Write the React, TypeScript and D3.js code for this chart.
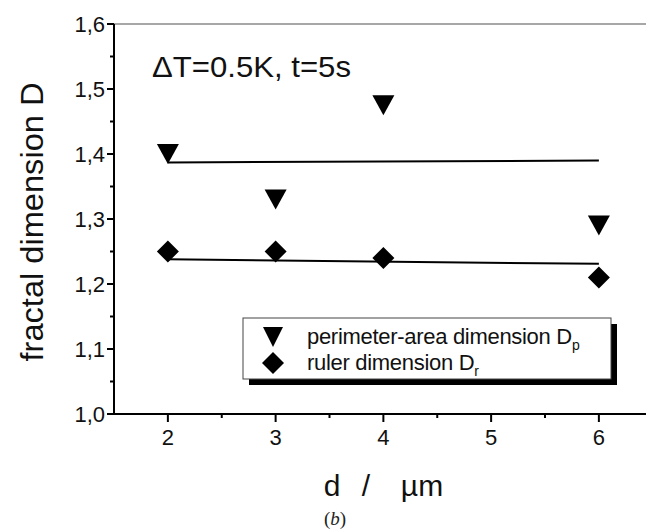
import React from "react";
import * as d3 from "d3";

const W = 646;
const H = 530;

// data
const dValues = [2, 3, 4, 6];
const perimeterArea = [1.4, 1.33, 1.475, 1.29];
const ruler = [1.25, 1.25, 1.24, 1.21];
const fitX = [2, 6];
const fitPerimeterArea = [1.387, 1.39];
const fitRuler = [1.238, 1.231];
const yTicks = [1.0, 1.1, 1.2, 1.3, 1.4, 1.5, 1.6];
const yTickLabels = ["1,0", "1,1", "1,2", "1,3", "1,4", "1,5", "1,6"];
const yMinor = [1.05, 1.15, 1.25, 1.35, 1.45, 1.55];
const xTicks = [2, 3, 4, 5, 6];
const xTickLabels = ["2", "3", "4", "5", "6"];
const xMinor = [2.5, 3.5, 4.5, 5.5];

const x = d3.scaleLinear().domain([1.5, 6.5]).range([114, 652.75]);
const y = d3.scaleLinear().domain([1.0, 1.6]).range([414, 24]);

const font = "'Liberation Sans', Arial, sans-serif";

function tri(cx: number, cy: number, w = 22, h = 20) {
  return `M${cx - w / 2},${cy - h / 2}L${cx + w / 2},${cy - h / 2}L${cx},${cy + h / 2}Z`;
}
function dia(cx: number, cy: number, r = 11) {
  return `M${cx},${cy - r}L${cx + r},${cy}L${cx},${cy + r}L${cx - r},${cy}Z`;
}

export default function App() {
  const line = d3
    .line<[number, number]>()
    .x((d) => x(d[0]))
    .y((d) => y(d[1]));
  const fitP: [number, number][] = fitX.map((v, i) => [v, fitPerimeterArea[i]]);
  const fitR: [number, number][] = fitX.map((v, i) => [v, fitRuler[i]]);
  const x0 = x(1.5);
  const yTop = y(1.6);
  const yBot = y(1.0);

  return (
    <svg
      width={W}
      height={H}
      style={{ position: "absolute", left: 0, top: 0, background: "#fff" }}
      fontFamily={font}
    >
      <rect width={W} height={H} fill="#fff" />
      {/* top frame line */}
      <line x1={x0} x2={W} y1={yTop} y2={yTop} stroke="#8a8a8a" strokeWidth={1.5} />
      {/* axes */}
      <line x1={x0} x2={x0} y1={yTop} y2={yBot} stroke="#000" strokeWidth={2} />
      <line x1={x0 - 1} x2={W} y1={yBot} y2={yBot} stroke="#000" strokeWidth={2} />
      {yTicks.map((t, i) => (
        <g key={"yt" + i}>
          <line x1={x0 - 7} x2={x0} y1={y(t)} y2={y(t)} stroke="#000" strokeWidth={2} />
          <text x={x0 - 9} y={y(t) + 7.5} fontSize={22} textAnchor="end" fill="#111">
            {yTickLabels[i]}
          </text>
        </g>
      ))}
      {yMinor.map((t, i) => (
        <line key={"ym" + i} x1={x0 - 4} x2={x0} y1={y(t)} y2={y(t)} stroke="#000" strokeWidth={2} />
      ))}
      {xTicks.map((t, i) => (
        <g key={"xt" + i}>
          <line x1={x(t)} x2={x(t)} y1={yBot} y2={yBot + 8} stroke="#000" strokeWidth={2} />
          <text x={x(t)} y={yBot + 31} fontSize={22} textAnchor="middle" fill="#111">
            {xTickLabels[i]}
          </text>
        </g>
      ))}
      {xMinor.map((t, i) => (
        <line key={"xm" + i} x1={x(t)} x2={x(t)} y1={yBot} y2={yBot + 4} stroke="#000" strokeWidth={2} />
      ))}

      {/* fit lines */}
      <path d={line(fitP) || ""} fill="none" stroke="#000" strokeWidth={2} />
      <path d={line(fitR) || ""} fill="none" stroke="#000" strokeWidth={2} />

      {/* markers */}
      {dValues.map((d, i) => (
        <path key={"p" + i} d={tri(x(d), y(perimeterArea[i]))} fill="#000" />
      ))}
      {dValues.map((d, i) => (
        <path key={"r" + i} d={dia(x(d), y(ruler[i]))} fill="#000" />
      ))}

      {/* annotation */}
      <text x={152} y={77} fontSize={30} fill="#111" textLength={199} lengthAdjust="spacingAndGlyphs">
        ΔT=0.5K, t=5s
      </text>

      {/* legend */}
      <rect x={249} y={324} width={368} height={61} fill="#000" />
      <rect x={243} y={318} width={368} height={61} fill="#fff" stroke="#444" strokeWidth={1} />
      <path d={tri(273, 337, 20, 20)} fill="#000" />
      <path d={dia(273, 363, 11)} fill="#000" />
      <text x={307} y={344} fontSize={22} fill="#111" letterSpacing={-0.3}>
        perimeter-area dimension D
        <tspan fontSize={14} dy={6}>p</tspan>
      </text>
      <text x={307} y={370} fontSize={22} fill="#111" letterSpacing={-0.3}>
        ruler dimension D
        <tspan fontSize={14} dy={6}>r</tspan>
      </text>

      {/* y label */}
      <text
        transform={`translate(43,${y(1.3) + 3}) rotate(-90)`}
        fontSize={32}
        textAnchor="middle"
        fill="#111"
        textLength={279}
        lengthAdjust="spacingAndGlyphs"
      >
        fractal dimension D
      </text>

      {/* x label */}
      <text x={332} y={496} fontSize={30} textAnchor="middle" fill="#111">d</text>
      <text x={366} y={496} fontSize={30} textAnchor="middle" fill="#111">/</text>
      <text x={422} y={496} fontSize={30} textAnchor="middle" fill="#111">µm</text>

      {/* panel label */}
      <text x={335} y={525} fontSize={19} textAnchor="middle" fontFamily="'Liberation Serif', 'Times New Roman', serif" fill="#222">
        (<tspan fontStyle="italic">b</tspan>)
      </text>
    </svg>
  );
}
